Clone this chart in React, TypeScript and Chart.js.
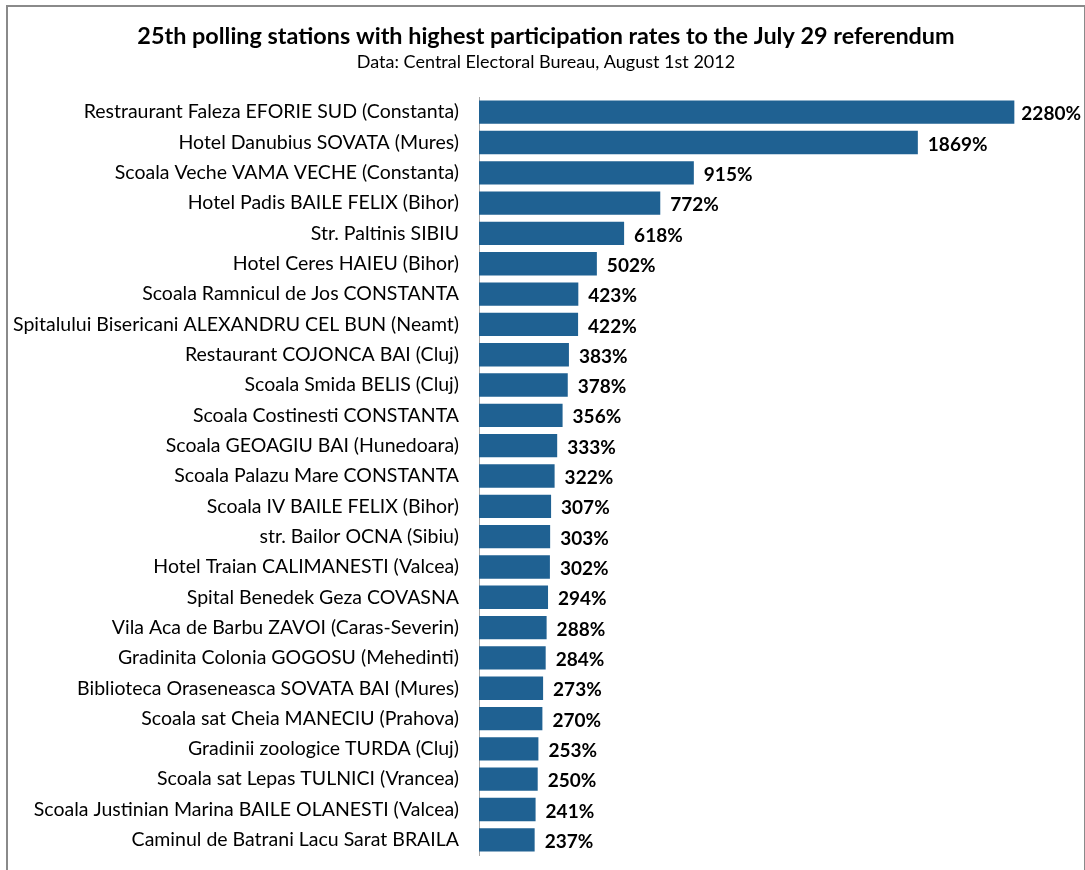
import React, { useEffect, useRef } from "react";
import { Chart, registerables } from "chart.js";

Chart.register(...registerables);

const TITLE = "25th polling stations with highest participation rates to the July 29 referendum";
const SUBTITLE = "Data: Central Electoral Bureau, August 1st 2012";

const stations = [
  "Restraurant Faleza EFORIE SUD (Constanta)",
  "Hotel Danubius SOVATA (Mures)",
  "Scoala Veche VAMA VECHE (Constanta)",
  "Hotel Padis BAILE FELIX (Bihor)",
  "Str. Paltinis SIBIU",
  "Hotel Ceres HAIEU (Bihor)",
  "Scoala Ramnicul de Jos CONSTANTA",
  "Spitalului Bisericani ALEXANDRU CEL BUN (Neamt)",
  "Restaurant COJONCA BAI (Cluj)",
  "Scoala Smida BELIS (Cluj)",
  "Scoala Costinesti CONSTANTA",
  "Scoala GEOAGIU BAI (Hunedoara)",
  "Scoala Palazu Mare CONSTANTA",
  "Scoala IV BAILE FELIX (Bihor)",
  "str. Bailor OCNA (Sibiu)",
  "Hotel Traian CALIMANESTI (Valcea)",
  "Spital Benedek Geza COVASNA",
  "Vila Aca de Barbu ZAVOI (Caras-Severin)",
  "Gradinita Colonia GOGOSU (Mehedinti)",
  "Biblioteca Oraseneasca SOVATA BAI (Mures)",
  "Scoala sat Cheia MANECIU (Prahova)",
  "Gradinii zoologice TURDA (Cluj)",
  "Scoala sat Lepas TULNICI (Vrancea)",
  "Scoala Justinian Marina BAILE OLANESTI (Valcea)",
  "Caminul de Batrani Lacu Sarat BRAILA",
];

const participation = [
  2280, 1869, 915, 772, 618, 502, 423, 422, 383, 378, 356, 333, 322, 307, 303,
  302, 294, 288, 284, 273, 270, 253, 250, 241, 237,
];

const FONT = "Lato, 'Noto Sans', sans-serif";

const titlePlugin = {
  id: "customTitle",
  afterDraw(chart: any) {
    const ctx = chart.ctx;
    ctx.save();
    ctx.fillStyle = "#000";
    ctx.textAlign = "center";
    ctx.textBaseline = "middle";
    ctx.font = `bold 23.4px ${FONT}`;
    ctx.fillText(TITLE, 546, 36);
    ctx.font = `18px ${FONT}`;
    ctx.fillText(SUBTITLE, 546, 62);
    ctx.restore();
  },
};

const valueLabels = {
  id: "valueLabels",
  afterDatasetsDraw(chart: any) {
    const ctx = chart.ctx;
    const meta = chart.getDatasetMeta(0);
    ctx.save();
    ctx.fillStyle = "#000";
    ctx.font = `bold 19px ${FONT}`;
    ctx.textAlign = "left";
    ctx.textBaseline = "middle";
    meta.data.forEach((bar: any, i: number) => {
      const text = participation[i] + "%";
      const w = ctx.measureText(text).width;
      const x = Math.min(bar.x + 10, chart.width - 4 - w);
      ctx.fillText(text, x, bar.y + 2);
    });
    ctx.restore();
  },
};

export default function App() {
  const ref = useRef<HTMLCanvasElement | null>(null);

  useEffect(() => {
    if (!ref.current) return;
    const chart = new Chart(ref.current, {
      type: "bar",
      data: {
        labels: stations,
        datasets: [
          {
            data: participation,
            backgroundColor: "#1f6192",
            borderWidth: 0,
            barPercentage: 0.77,
            categoryPercentage: 1,
          },
        ],
      },
      options: {
        indexAxis: "y",
        animation: false,
        responsive: false,
        layout: { padding: { top: 97, bottom: 15, right: 19, left: 0 } },
        plugins: {
          legend: { display: false },
          title: { display: false },
          tooltip: { enabled: false },
        },
        scales: {
          x: {
            display: false,
            min: 0,
            max: 2500,
          },
          y: {
            afterFit(scale: any) {
              scale.width = 479;
              scale.paddingTop = 0;
              scale.paddingBottom = 0;
            },
            grid: { display: false, drawTicks: false },
            border: { display: true, color: "#a6a6a6", width: 1 },
            ticks: {
              color: "#000",
              padding: 20,
              autoSkip: false,
              font: { family: FONT, size: 19.5 },
            },
          },
        },
      },
      plugins: [titlePlugin, valueLabels],
    });
    return () => chart.destroy();
  }, []);

  return (
    <div style={{ position: "absolute", left: 0, top: 0, width: 1085, height: 870, background: "#fff", overflow: "hidden" }}>
      <div
        style={{
          position: "absolute",
          left: 6,
          top: 5,
          width: 1076,
          height: 900,
          borderTop: "2px solid #8a8a8a",
          borderLeft: "2px solid #8a8a8a",
          borderRight: "2px solid #8a8a8a",
        }}
      />
      <canvas ref={ref} width={1085} height={870} style={{ position: "absolute", left: 0, top: 0 }} />
    </div>
  );
}
